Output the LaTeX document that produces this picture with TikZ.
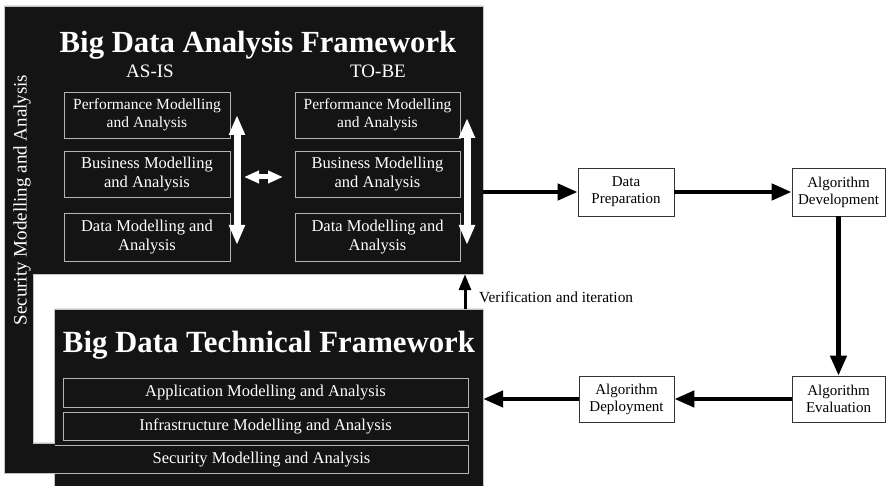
\documentclass[tikz,border=0pt]{standalone}
\usepackage{fontspec}
\setmainfont{Liberation Serif}
\usetikzlibrary{arrows.meta}
\definecolor{panel}{HTML}{141414}
\definecolor{edge}{HTML}{B4B4B4}
\tikzset{
  inbox/.style={draw=edge, line width=0.8pt, text=white, align=center, inner sep=0pt,
    font=\fontsize{16.5}{18.5}\selectfont},
  outbox/.style={draw=black!80, line width=0.8pt, text=black, align=center, inner sep=0pt,
    fill=white, font=\fontsize{15}{17}\selectfont},
  flow/.style={line width=4.5pt, -{Triangle[length=20pt,width=16pt]}},
  whitearrow/.style={white, line width=7pt, {Triangle[length=20pt,width=15pt]}-{Triangle[length=20pt,width=15pt]}},
  bigtitle/.style={text=white, font=\bfseries\fontsize{30.7}{33}\selectfont, inner sep=0pt},
  subtitle/.style={text=white, font=\fontsize{19}{21}\selectfont, inner sep=0pt},
}
\begin{document}
\begin{tikzpicture}[x=1pt, y=-1pt]
\useasboundingbox (0,0) rectangle (887,486);

% dark panels: analysis frame, security strip and technical frame as one outline
\draw[fill=panel, draw=edge!80, line width=0.6pt]
  (4,6) -- (483,6) -- (483,274) -- (33,274) -- (33,443) -- (54,443) -- (54,309)
  -- (483,309) -- (483,486) -- (54,486) -- (54,473) -- (4,473) -- cycle;

% anchors for the two frames
\node[inner sep=0pt, minimum width=479pt, minimum height=268pt] (taf) at (243.5,140) {};
\node[inner sep=0pt, minimum width=429pt, minimum height=177pt] (tf) at (268.5,397.5) {};

% analysis framework
\node[bigtitle] (t1) at (258,45) {Big Data Analysis Framework};
\node[subtitle] (asis) at (150,71) {AS-IS};
\node[subtitle] (tobe) at (378,71) {TO-BE};

\node[inbox, font=\fontsize{15.5}{18}\selectfont, minimum width=166pt, minimum height=46pt] (lp) at (147,115) {Performance Modelling\\and Analysis};
\node[inbox, minimum width=166pt, minimum height=46pt] (lb) at (147,174) {Business Modelling\\and Analysis};
\node[inbox, minimum width=166pt, minimum height=48pt] (ld) at (147,237) {Data Modelling and\\Analysis};

\node[inbox, font=\fontsize{15.5}{18}\selectfont, minimum width=165pt, minimum height=46pt] (rp) at (377.5,115) {Performance Modelling\\and Analysis};
\node[inbox, minimum width=165pt, minimum height=46pt] (rb) at (377.5,174) {Business Modelling\\and Analysis};
\node[inbox, minimum width=165pt, minimum height=48pt] (rd) at (377.5,237) {Data Modelling and\\Analysis};

\coordinate (la) at (237,115);
\coordinate (lz) at (237,245);
\coordinate (ra) at (467,118);
\coordinate (rz) at (467,245);
\draw[whitearrow] (la) -- (lz);
\draw[whitearrow] (ra) -- (rz);
\coordinate (ha) at (244,177);
\coordinate (hz) at (283,177);
\draw[white, line width=5pt, {Triangle[length=15pt,width=12pt]}-{Triangle[length=15pt,width=12pt]}] (ha) -- (hz);

% security strip
\node[text=white, rotate=90, inner sep=0pt, font=\fontsize{19}{21}\selectfont] (sec) at (22,200)
  {Security Modelling and Analysis};

% technical framework
\node[bigtitle, font=\bfseries\fontsize{30.8}{33}\selectfont] (t2) at (269,345) {Big Data Technical Framework};
\node[inbox, minimum width=405pt, minimum height=29pt] (app) at (265.5,392.5) {Application Modelling and Analysis};
\node[inbox, minimum width=405pt, minimum height=28pt] (inf) at (265.5,426) {Infrastructure Modelling and Analysis};
\node[inbox, draw=none, minimum width=413pt, minimum height=27pt] (secb) at (261.5,459.5) {Security Modelling and Analysis};
\draw[edge, line width=0.8pt] (secb.north west) -- (secb.north east) -- (secb.south east) -- (secb.south west);

% algorithm pipeline
\node[outbox, minimum width=96pt, minimum height=48pt] (dp) at (626,192) {Data\\Preparation};
\node[outbox, minimum width=93pt, minimum height=48pt] (ad) at (838.5,192) {Algorithm\\Development};
\node[outbox, minimum width=93pt, minimum height=46pt] (ae) at (838.5,399) {Algorithm\\Evaluation};
\node[outbox, minimum width=95pt, minimum height=46pt] (dep) at (626.5,399) {Algorithm\\Deployment};

\draw[flow] (taf.east |- dp.west) -- (dp.west);
\draw[flow] (dp.east) -- (ad.west);
\draw[flow] (ad.south) -- (ae.north);
\draw[flow] (ae.west) -- (dep.east);
\draw[flow] (dep.west) -- (tf.east |- dep.west);

\coordinate (vx) at (465,0);
\draw[line width=3pt, -{Triangle[length=16pt,width=12pt]}] (vx |- tf.north) -- (vx |- taf.south);
\node[anchor=west, inner sep=0pt, font=\fontsize{15.4}{17}\selectfont] (vlab) at (479,297) {Verification and iteration};
\end{tikzpicture}
\end{document}
